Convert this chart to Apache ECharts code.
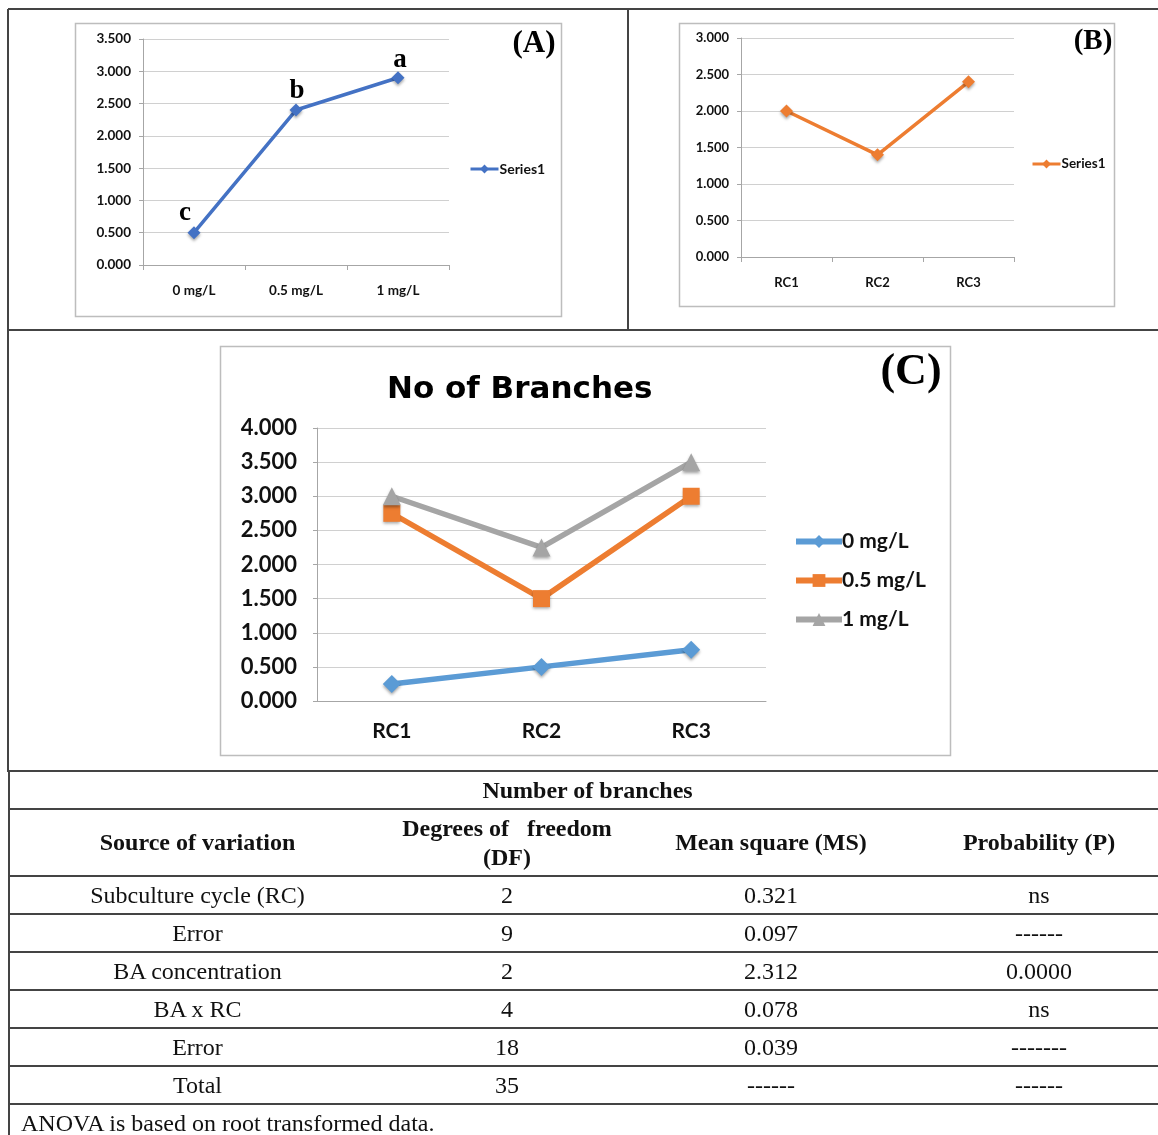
<!DOCTYPE html>
<html>
<head>
<meta charset="utf-8">
<script src="https://cdn.jsdelivr.net/npm/echarts@6/dist/echarts.min.js"></script>
<style>
  html, body { margin: 0; padding: 0; background: #fff; overflow: hidden; }
  #chart { position: absolute; left: 0; top: 0; width: 1158px; height: 772px; }
  #anova {
    position: absolute; left: 8px; top: 770px; width: 1156px;
    border-collapse: collapse; table-layout: fixed;
    font-family: 'Liberation Serif', 'Times New Roman', serif; font-size: 24px; color: #111;
    border-left: 2px solid #444;
  }
  #anova td { border-top: 2px solid #444; border-bottom: 2px solid #444; padding: 0; text-align: center; }
  #anova .bold td { font-weight: bold; }
  #anova .note td { text-align: left; padding-left: 11px; }
</style>
</head>
<body>
<div id="chart"></div>
<table id="anova"></table>
<script>
// (A) BA concentration
const concLabels = ['0 mg/L', '0.5 mg/L', '1 mg/L']
const concMeans = [0.5, 2.4, 2.9]
const concLetters = ['c', 'b', 'a']
// (B) subculture cycle
const cycleLabels = ['RC1', 'RC2', 'RC3']
const cycleMeans = [2.0, 1.4, 2.4]
// (C) No of branches per concentration
const branches0 = [0.25, 0.5, 0.75]
const branches05 = [2.75, 1.5, 3.0]
const branches1 = [3.0, 2.25, 3.5]
// ANOVA table
const anovaSource = ['Subculture cycle (RC)', 'Error', 'BA concentration', 'BA x RC', 'Error', 'Total']
const anovaDF = ['2', '9', '2', '4', '18', '35']
const anovaMS = ['0.321', '0.097', '2.312', '0.078', '0.039', '------']
const anovaP = ['ns', '------', '0.0000', 'ns', '-------', '------']

const chartFont = 'Lato'
const gridGray = '#d0d0d0'
const axisGray = '#a6a6a6'

function xAxisOf(gridIndex, data, fontSize, margin, showTick) {
  return {
    type: 'category', gridIndex, data, boundaryGap: true,
    axisLine: { lineStyle: { color: axisGray, width: 1 } },
    axisTick: { show: showTick, length: 5, lineStyle: { color: axisGray } },
    axisLabel: { color: '#111', fontFamily: chartFont, fontWeight: 'bold', fontSize, margin },
    splitLine: { show: false },
  }
}
function yAxisOf(gridIndex, max, fontSize, margin) {
  return {
    type: 'value', gridIndex, min: 0, max, interval: 0.5,
    axisLine: { show: true, lineStyle: { color: axisGray, width: 1 } },
    axisTick: { show: true, length: 4, lineStyle: { color: axisGray } },
    axisLabel: { color: '#111', fontFamily: chartFont, fontWeight: 'bold', fontSize, margin, formatter: v => v.toFixed(3) },
    splitLine: { lineStyle: { color: gridGray, width: 1 } },
  }
}
const shadow = { shadowBlur: 3, shadowColor: 'rgba(0,0,0,0.35)', shadowOffsetY: 2 }
const letterOffsets = [[-9, 5], [1, 6], [2, 7]]

const option = {
  animation: false,
  title: {
    text: 'No of Branches', left: 382, top: 369,
    textStyle: { fontFamily: 'DejaVu Sans', fontWeight: 'bold', fontSize: 31, color: '#000' },
  },
  grid: [
    { left: 143, top: 39, width: 306, height: 226, outerBoundsMode: 'none' },
    { left: 741, top: 38, width: 273, height: 219, outerBoundsMode: 'none' },
    { left: 317, top: 428, width: 449, height: 273, outerBoundsMode: 'none' },
  ],
  xAxis: [
    xAxisOf(0, concLabels, 13.5, 19, true),
    xAxisOf(1, cycleLabels, 13, 19, true),
    xAxisOf(2, cycleLabels, 21, 20, false),
  ],
  yAxis: [
    yAxisOf(0, 3.5, 13.5, 12),
    yAxisOf(1, 3.0, 13, 12),
    yAxisOf(2, 4.0, 22, 20),
  ],
  legend: [
    {
      data: ['A:Series1'], left: 464, top: 157, orient: 'vertical',
      itemWidth: 28, itemHeight: 11, formatter: n => n.split(':')[1],
      lineStyle: { width: 3 },
      textStyle: { fontFamily: chartFont, fontWeight: 'bold', fontSize: 14, color: '#111', padding: [0, 0, 0, -4] },
    },
    {
      data: ['B:Series1'], left: 1026, top: 152, orient: 'vertical',
      itemWidth: 28, itemHeight: 11, formatter: n => n.split(':')[1],
      lineStyle: { width: 3 },
      textStyle: { fontFamily: chartFont, fontWeight: 'bold', fontSize: 13.5, color: '#111', padding: [0, 0, 0, -4] },
    },
    {
      data: concLabels, left: 788, top: 526, orient: 'vertical', itemGap: 18,
      itemWidth: 46, itemHeight: 16,
      lineStyle: { width: 6 },
      textStyle: { fontFamily: chartFont, fontWeight: 'bold', fontSize: 21, color: '#111', padding: [0, 0, 0, -5] },
    },
  ],
  series: [
    {
      name: 'A:Series1', type: 'line', xAxisIndex: 0, yAxisIndex: 0,
      symbol: 'diamond', symbolSize: 13,
      lineStyle: { color: '#4472c4', width: 3.5 },
      itemStyle: Object.assign({ color: '#4472c4' }, shadow),
      data: concMeans.map((v, i) => ({
        value: v,
        label: {
          show: true, position: 'top', offset: letterOffsets[i], formatter: concLetters[i],
          fontFamily: 'Liberation Serif', fontWeight: 'bold', fontSize: 27, color: '#000',
        },
      })),
    },
    {
      name: 'B:Series1', type: 'line', xAxisIndex: 1, yAxisIndex: 1,
      symbol: 'diamond', symbolSize: 13,
      lineStyle: { color: '#ed7d31', width: 3.5 },
      itemStyle: Object.assign({ color: '#ed7d31' }, shadow),
      data: cycleMeans,
    },
    {
      name: concLabels[0], type: 'line', xAxisIndex: 2, yAxisIndex: 2,
      symbol: 'diamond', symbolSize: 18,
      lineStyle: { color: '#5b9bd5', width: 5.5 },
      itemStyle: Object.assign({ color: '#5b9bd5' }, shadow),
      data: branches0,
    },
    {
      name: concLabels[1], type: 'line', xAxisIndex: 2, yAxisIndex: 2,
      symbol: 'rect', symbolSize: 17,
      lineStyle: { color: '#ed7d31', width: 5.5 },
      itemStyle: Object.assign({ color: '#ed7d31' }, shadow),
      data: branches05,
    },
    {
      name: concLabels[2], type: 'line', xAxisIndex: 2, yAxisIndex: 2,
      symbol: 'triangle', symbolSize: 18,
      lineStyle: { color: '#a5a5a5', width: 5.5 },
      itemStyle: Object.assign({ color: '#a5a5a5' }, shadow),
      data: branches1,
    },
  ],
  graphic: [
    // outer frame and panel dividers
    { type: 'line', shape: { x1: 8, y1: 9, x2: 1158, y2: 9 }, style: { stroke: '#444', lineWidth: 2 } },
    { type: 'line', shape: { x1: 8, y1: 9, x2: 8, y2: 772 }, style: { stroke: '#444', lineWidth: 2 } },
    { type: 'line', shape: { x1: 628, y1: 9, x2: 628, y2: 330 }, style: { stroke: '#444', lineWidth: 2 } },
    { type: 'line', shape: { x1: 8, y1: 330, x2: 1158, y2: 330 }, style: { stroke: '#444', lineWidth: 2 } },
    // chart boxes
    { type: 'rect', shape: { x: 75.5, y: 23.5, width: 486, height: 293 }, style: { fill: 'none', stroke: '#bdbdbd', lineWidth: 1.5 }, z: -1 },
    { type: 'rect', shape: { x: 679.5, y: 23.5, width: 435, height: 283 }, style: { fill: 'none', stroke: '#bdbdbd', lineWidth: 1.5 }, z: -1 },
    { type: 'rect', shape: { x: 220.5, y: 346.5, width: 730, height: 409 }, style: { fill: 'none', stroke: '#bdbdbd', lineWidth: 1.5 }, z: -1 },
    // panel letters
    { type: 'text', style: { x: 534, y: 44, text: '(A)', align: 'center', verticalAlign: 'middle', font: 'bold 31px "Liberation Serif"', fill: '#000' } },
    { type: 'text', style: { x: 1093, y: 42, text: '(B)', align: 'center', verticalAlign: 'middle', font: 'bold 29px "Liberation Serif"', fill: '#000' } },
    { type: 'text', style: { x: 911, y: 373, text: '(C)', align: 'center', verticalAlign: 'middle', font: 'bold 44px "Liberation Serif"', fill: '#000' } },
  ],
}
echarts.init(document.getElementById('chart')).setOption(option)

// ANOVA table below the charts
const table = document.getElementById('anova')
const colWidths = [376, 244, 284, 252]
let html = '<colgroup>' + colWidths.map(w => `<col style="width:${w}px">`).join('') + '</colgroup>'
html += '<tr class="bold" style="height:38px"><td colspan="4">Number of branches</td></tr>'
html += '<tr class="bold" style="height:67px"><td>Source of variation</td>' +
  '<td style="line-height:29px">Degrees of&nbsp;&nbsp; freedom<br>(DF)</td>' +
  '<td>Mean square (MS)</td><td>Probability (P)</td></tr>'
anovaSource.forEach((s, i) => {
  html += `<tr style="height:38px"><td>${s}</td><td>${anovaDF[i]}</td><td>${anovaMS[i]}</td><td>${anovaP[i]}</td></tr>`
})
html += '<tr class="note" style="height:38px"><td colspan="4">ANOVA is based on root transformed data.</td></tr>'
table.innerHTML = html
</script>
</body>
</html>
